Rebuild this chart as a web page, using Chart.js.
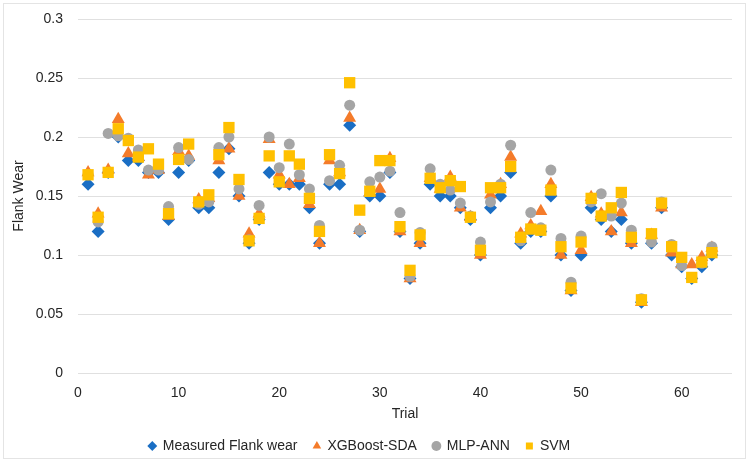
<!DOCTYPE html>
<html>
<head>
<meta charset="utf-8">
<script src="https://cdn.jsdelivr.net/npm/chart.js@4"></script>
<style>
  html, body { margin: 0; padding: 0; background: #fff; }
</style>
</head>
<body>
<canvas id="wearChart" width="751" height="464"></canvas>
<script>
// trial numbers on the x axis
const trials = [1, 2, 3, 4, 5, 6, 7, 8, 9, 10, 11, 12, 13, 14, 15, 16, 17, 18, 19, 20,
  21, 22, 23, 24, 25, 26, 27, 28, 29, 30, 31, 32, 33, 34, 35, 36, 37, 38, 39, 40,
  41, 42, 43, 44, 45, 46, 47, 48, 49, 50, 51, 52, 53, 54, 55, 56, 57, 58, 59, 60,
  61, 62, 63];

const measured = [0.16, 0.12, 0.17, 0.20, 0.18, 0.18, 0.17, 0.17, 0.13, 0.17,
  0.18, 0.14, 0.14, 0.17, 0.19, 0.15, 0.11, 0.13, 0.17, 0.16,
  0.16, 0.16, 0.14, 0.11, 0.16, 0.16, 0.21, 0.12, 0.15, 0.15,
  0.17, 0.12, 0.08, 0.11, 0.16, 0.15, 0.15, 0.14, 0.13, 0.10,
  0.14, 0.15, 0.17, 0.11, 0.12, 0.12, 0.15, 0.10, 0.07, 0.10,
  0.14, 0.13, 0.12, 0.13, 0.11, 0.06, 0.11, 0.14, 0.10, 0.09,
  0.08, 0.09, 0.10];

const xgboostSda = [0.170, 0.135, 0.172, 0.215, 0.186, 0.183, 0.168, 0.172, 0.133, 0.188,
  0.184, 0.147, 0.148, 0.180, 0.190, 0.150, 0.118, 0.135, 0.198, 0.168,
  0.160, 0.165, 0.143, 0.110, 0.180, 0.170, 0.216, 0.121, 0.153, 0.156,
  0.182, 0.120, 0.080, 0.110, 0.165, 0.156, 0.166, 0.140, 0.132, 0.100,
  0.151, 0.160, 0.183, 0.118, 0.125, 0.137, 0.160, 0.100, 0.070, 0.104,
  0.149, 0.135, 0.120, 0.136, 0.110, 0.060, 0.117, 0.140, 0.102, 0.092,
  0.092, 0.098, 0.106];

const mlpAnn = [0.168, 0.128, 0.203, 0.201, 0.199, 0.189, 0.172, 0.172, 0.141, 0.191,
  0.181, 0.143, 0.145, 0.191, 0.200, 0.156, 0.113, 0.142, 0.200, 0.174,
  0.194, 0.168, 0.156, 0.125, 0.163, 0.176, 0.227, 0.121, 0.162, 0.166,
  0.171, 0.136, 0.082, 0.119, 0.173, 0.160, 0.155, 0.144, 0.133, 0.111,
  0.145, 0.160, 0.193, 0.112, 0.136, 0.123, 0.172, 0.114, 0.077, 0.116,
  0.145, 0.152, 0.133, 0.144, 0.121, 0.063, 0.111, 0.145, 0.109, 0.091,
  0.081, 0.093, 0.107];

const svm = [0.168, 0.132, 0.170, 0.207, 0.197, 0.183, 0.190, 0.177, 0.135, 0.181,
  0.194, 0.145, 0.151, 0.185, 0.208, 0.164, 0.112, 0.131, 0.184, 0.162,
  0.184, 0.177, 0.148, 0.120, 0.185, 0.169, 0.246, 0.138, 0.154, 0.180,
  0.180, 0.124, 0.087, 0.117, 0.165, 0.157, 0.163, 0.158, 0.132, 0.104,
  0.157, 0.157, 0.175, 0.115, 0.122, 0.121, 0.155, 0.107, 0.072, 0.111,
  0.148, 0.133, 0.140, 0.153, 0.115, 0.062, 0.118, 0.144, 0.107, 0.098,
  0.081, 0.094, 0.102];

const xTicks = [0, 10, 20, 30, 40, 50, 60];

function toPoints(values) {
  return values.map((v, i) => ({ x: trials[i], y: v }));
}

const fontFamily = '"Liberation Sans", Arial, sans-serif';
const textColor = '#262626';

// faint frame round the whole picture, legend nudged left like the original
const framePlugin = {
  id: 'frame',
  afterLayout(chart) {
    chart.legend.left -= 10;
    chart.legend.right -= 10;
  },
  afterDraw(chart) {
    const ctx = chart.ctx;
    ctx.save();
    ctx.strokeStyle = '#e4e4e4';
    ctx.lineWidth = 1;
    ctx.strokeRect(3.5, 3.5, 742, 455);
    ctx.restore();
  }
};

const wearChart = new Chart(document.getElementById('wearChart'), {
  type: 'scatter',
  data: {
    datasets: [
      {
        label: 'Measured Flank wear',
        data: toPoints(measured),
        pointStyle: 'rectRot',
        pointRadius: 6.5,
        backgroundColor: '#1a6ec4',
        borderColor: '#1a6ec4',
        borderWidth: 0,
        order: 3
      },
      {
        label: 'XGBoost-SDA',
        data: toPoints(xgboostSda),
        pointStyle: 'triangle',
        pointRadius: 7.5,
        backgroundColor: '#f47b2a',
        borderColor: '#f47b2a',
        borderWidth: 0,
        order: 2
      },
      {
        label: 'MLP-ANN',
        data: toPoints(mlpAnn),
        pointStyle: 'circle',
        pointRadius: 5.5,
        backgroundColor: '#a5a5a5',
        borderColor: '#a5a5a5',
        borderWidth: 0,
        order: 1
      },
      {
        label: 'SVM',
        data: toPoints(svm),
        pointStyle: 'rect',
        pointRadius: 8,
        backgroundColor: '#ffc000',
        borderColor: '#ffc000',
        borderWidth: 0,
        order: 0
      }
    ]
  },
  options: {
    responsive: false,
    animation: false,
    layout: { padding: { left: 7, right: 19, top: 19, bottom: 1 } },
    plugins: {
      tooltip: { enabled: false },
      legend: {
        position: 'bottom',
        labels: {
          usePointStyle: true,
          boxWidth: 7,
          boxHeight: 7,
          padding: 16,
          color: textColor,
          font: { family: fontFamily, size: 14 },
          sort: (a, b) => a.datasetIndex - b.datasetIndex
        }
      }
    },
    scales: {
      x: {
        type: 'linear',
        min: 0,
        max: 65,
        afterBuildTicks: scale => {
          scale.ticks = xTicks.map(v => ({ value: v }));
        },
        afterFit: scale => { scale.height = 50; },
        grid: { display: false, drawTicks: false },
        border: { display: false },
        ticks: {
          padding: 12,
          color: textColor,
          font: { family: fontFamily, size: 14 }
        },
        title: {
          display: true,
          text: 'Trial',
          color: textColor,
          padding: { top: 0, bottom: 0 },
          font: { family: fontFamily, size: 14 }
        }
      },
      y: {
        min: 0,
        max: 0.3,
        afterFit: scale => {
          scale.width = 71;
          scale.paddingTop = 0;
        },
        grid: { color: '#e0e0e0', lineWidth: 1, drawTicks: false },
        border: { display: false },
        ticks: {
          stepSize: 0.05,
          padding: 15,
          color: textColor,
          font: { family: fontFamily, size: 14 },
          callback: v => String(+v.toFixed(2))
        },
        title: {
          display: true,
          text: 'Flank Wear',
          color: textColor,
          padding: { top: 4, bottom: 0 },
          font: { family: fontFamily, size: 14 }
        }
      }
    }
  },
  plugins: [framePlugin]
});
</script>
</body>
</html>
